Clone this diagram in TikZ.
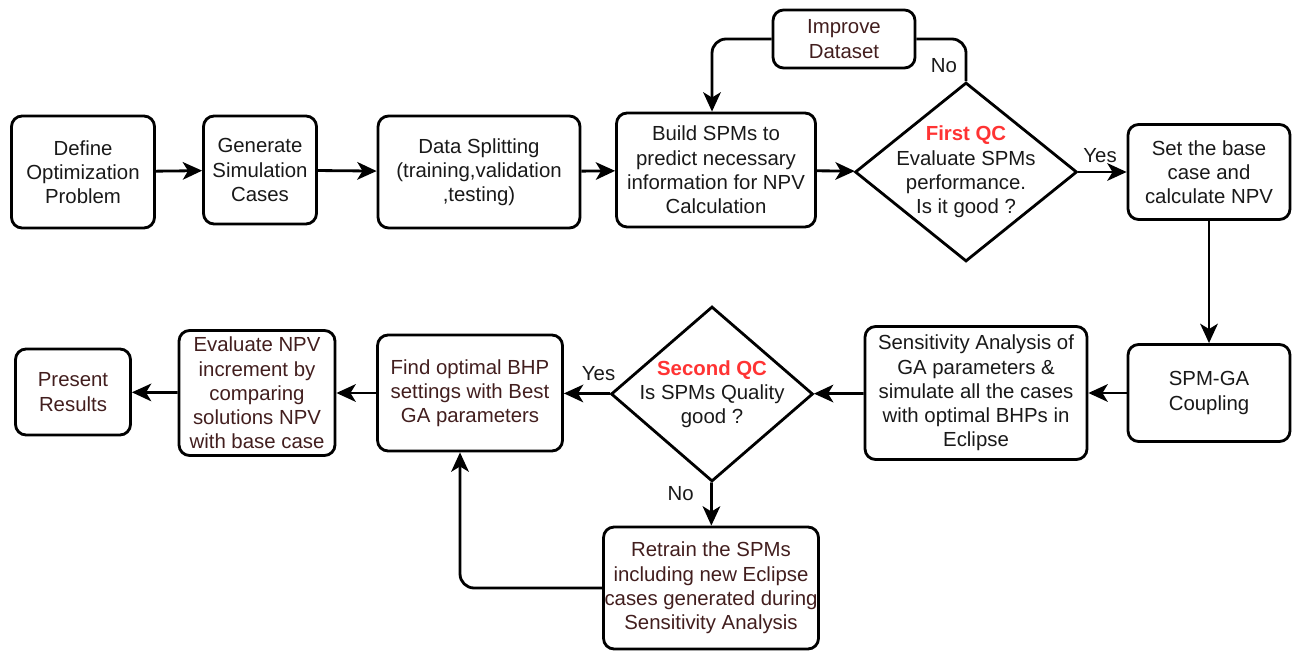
\documentclass[tikz,border=0pt]{standalone}
\usepackage{fontspec}
\setmainfont{Liberation Sans}
\usepackage{xcolor}
\usetikzlibrary{arrows.meta,positioning,shapes.geometric}
\definecolor{qcred}{RGB}{255,51,51}
\definecolor{txtbrown}{RGB}{66,30,30}
\definecolor{txtdark}{RGB}{25,25,25}

\begin{document}
\begin{tikzpicture}[x=0.02cm,y=-0.02cm,
  box/.style={draw,line width=1.6pt,rounded corners=6pt,align=center,inner sep=0pt,
    text=txtdark,font=\fontsize{11.6}{13.8}\selectfont},
  decision/.style={draw,diamond,line width=1.6pt,align=center,inner sep=-12pt,shape aspect=1.24,
    text=txtdark,font=\fontsize{11.6}{13.8}\selectfont},
  flow/.style={line width=1.6pt,-{Stealth[length=11pt,width=10pt,inset=3pt]}},
  lbl/.style={font=\fontsize{11.6}{13}\selectfont,text=txtdark}]
  \useasboundingbox (0,0) rectangle (1293,651);

  % upper row
  \node[box,minimum width=2.86cm,minimum height=2.24cm] (define) at (83,172) {Define\\Optimization\\Problem};
  \node[box,minimum width=2.26cm,minimum height=2.16cm] (generate) at (260,170) {Generate\\Simulation\\Cases};
  \node[box,minimum width=4.04cm,minimum height=2.24cm] (split) at (479,172) {Data Splitting\\(training,validation\\,testing)};
  \node[box,minimum width=3.98cm,minimum height=2.28cm] (build) at (716,170) {Build SPMs to\\predict necessary\\information for NPV\\Calculation};
  \node[box,text=txtbrown,minimum width=2.84cm,minimum height=1.16cm] (improve) at (844,39) {Improve\\Dataset};
  \node[decision,minimum width=4.44cm,minimum height=3.58cm] (qc1) at (966,172) {\textcolor{qcred}{\textbf{First QC}}\\Evaluate SPMs\\performance.\\Is it good ?};
  \node[box,minimum width=3.24cm,minimum height=1.9cm] (base) at (1209,172) {Set the base\\case and\\calculate NPV};

  % lower row
  \node[box,minimum width=3.24cm,minimum height=1.94cm] (coupling) at (1209,393) {SPM-GA\\Coupling};
  \node[box,minimum width=4.44cm,minimum height=2.66cm] (sens) at (976,393) {Sensitivity Analysis of\\GA parameters \&\\simulate all the cases\\with optimal BHPs in\\Eclipse};
  \node[decision,minimum width=4.04cm,minimum height=3.5cm] (qc2) at (712,394) {\textcolor{qcred}{\textbf{Second QC}}\\Is SPMs Quality\\good ?};
  \node[box,text=txtbrown,minimum width=3.7cm,minimum height=2.32cm] (find) at (470,393) {Find optimal BHP\\settings with Best\\GA parameters};
  \node[box,text=txtbrown,minimum width=3.12cm,minimum height=2.5cm] (evalnpv) at (257,393) {Evaluate NPV\\increment by\\comparing\\solutions NPV\\with base case};
  \node[box,text=txtbrown,minimum width=2.3cm,minimum height=1.72cm] (present) at (73,392) {Present\\Results};
  \node[box,text=txtbrown,minimum width=4.3cm,minimum height=2.44cm] (retrain) at (711,588) {Retrain the SPMs\\including new Eclipse\\cases generated during\\Sensitivity Analysis};

  % connectors
  \draw[flow] (define) -- (generate);
  \draw[flow] (generate) -- (split);
  \draw[flow] (split) -- (build);
  \draw[flow] (build) -- (qc1);
  \draw[flow] (qc1) -- node[lbl,above=1pt,pos=0.45] {Yes} (base);
  \draw[line width=1.6pt,rounded corners=8pt] (qc1.north) |- node[lbl,left=1pt,pos=0.18] {No} (improve.east);
  \draw[flow,rounded corners=8pt] (improve.west) -| ([xshift=-0.08cm]build.north);
  \draw[flow] (base) -- (coupling);
  \draw[flow] (coupling) -- (sens);
  \draw[flow] (sens) -- (qc2);
  \draw[flow] (qc2) -- node[lbl,above=3pt,pos=0.25] {Yes} (find);
  \draw[flow] (find) -- (evalnpv);
  \draw[flow] (evalnpv) -- (present);
  \draw[flow] (qc2) -- node[lbl,left=6pt,pos=0.25] {No} (retrain);
  \draw[flow,rounded corners=8pt] (retrain.west) -| ([xshift=-0.2cm]find.south);
\end{tikzpicture}
\end{document}
